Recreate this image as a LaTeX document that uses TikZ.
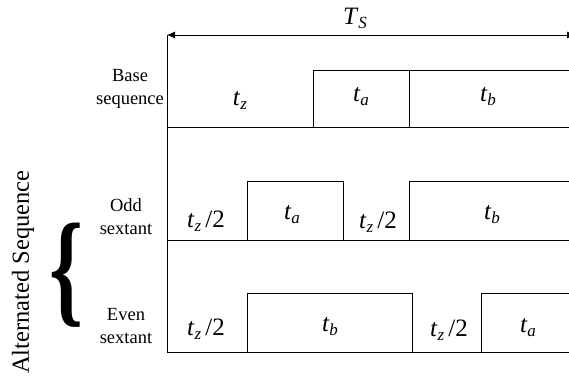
\documentclass[tikz,border=0pt]{standalone}
\usepackage{fontspec}
\setmainfont{Liberation Serif}
\usetikzlibrary{arrows.meta}
\newcommand{\tvar}[2]{\textit{#1}\raisebox{-0.35ex}{\fontsize{17}{17}\selectfont\textit{#2}}}
\begin{document}
\begin{tikzpicture}[x=1pt,y=-1pt,
  wave/.style={line width=0.9pt},
  lbl/.style={font=\fontsize{18.5}{23}\selectfont, align=center},
  var/.style={font=\fontsize{25}{25}\selectfont, inner sep=0pt}]
\useasboundingbox (0,0) rectangle (569,376);
\clip (0,0) rectangle (569,376);
% axis and period arrow
\coordinate (top) at (167,35);
\coordinate (bot) at (167,352);
\coordinate (arrR) at (575,35);
\draw[line width=0.8pt] (top) -- (bot);
\draw[line width=0.8pt, {Latex[length=8pt,width=7pt]}-{Latex[length=8pt,width=7pt]}] (top) -- (arrR);
\node[var] (TS) at (355,18) {\tvar{T}{S}};
% base sequence
\draw[wave] (167,127) -- (569,127);
\draw[wave] (313,127) -- (313,70) -- (569,70);
\draw[wave] (409,70) -- (409,127);
% odd sextant
\draw[wave] (167,240) -- (569,240);
\draw[wave] (247,240) -- (247,181) -- (343,181) -- (343,240);
\draw[wave] (409,240) -- (409,181) -- (569,181);
% even sextant
\draw[wave] (167,352) -- (569,352);
\draw[wave] (247,352) -- (247,293) -- (412,293) -- (412,352);
\draw[wave] (481,352) -- (481,293) -- (569,293);
% row labels
\node[lbl] (base) at (130,89) {Base\\sequence};
\node[lbl] (odd) at (126,217) {Odd\\sextant};
\node[lbl] (even) at (126,326) {Even\\sextant};
% duration labels
\node[var] (b1) at (240,100) {\tvar{t}{z}};
\node[var] (b2) at (361,97) {\tvar{t}{a}};
\node[var] (b3) at (488,97) {\tvar{t}{b}};
\node[var] (o1) at (206,221) {\tvar{t}{z}\,/2};
\node[var] (o2) at (292,215) {\tvar{t}{a}};
\node[var] (o3) at (378,222) {\tvar{t}{z}\,/2};
\node[var] (o4) at (492,215) {\tvar{t}{b}};
\node[var] (e1) at (206,329) {\tvar{t}{z}\,/2};
\node[var] (e2) at (330,327) {\tvar{t}{b}};
\node[var] (e3) at (449,330) {\tvar{t}{z}\,/2};
\node[var] (e4) at (528,328) {\tvar{t}{a}};
% brace and group label
\node[inner sep=0pt] (brace) at (67,275) {\scalebox{0.72}[1.05]{\fontsize{120}{120}\selectfont\bfseries\{}};
\node[rotate=90, font=\fontsize{24.5}{24.5}\selectfont, inner sep=0pt] (alt) at (23,272) {Alternated Sequence};
\end{tikzpicture}
\end{document}
